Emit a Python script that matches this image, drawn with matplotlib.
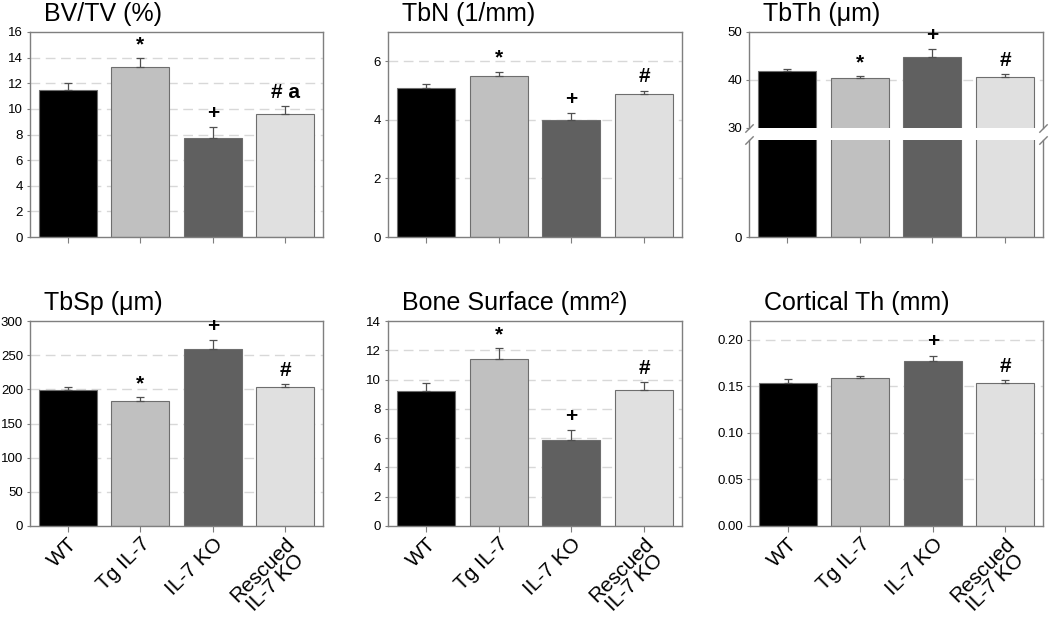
import numpy as np
import matplotlib
matplotlib.use("Agg")
import matplotlib.pyplot as plt

plt.rcParams['font.family'] = ['Liberation Sans', 'DejaVu Sans']

groups = ["WT", "Tg IL-7", "IL-7 KO", "Rescued\nIL-7 KO"]
bar_colors = ["#000000", "#c0c0c0", "#606060", "#e0e0e0"]

# means and upper error (SEM)
bvtv_mean = [11.5, 13.3, 7.7, 9.6]
bvtv_err = [0.55, 0.65, 0.85, 0.6]
bvtv_marks = ["", "*", "+", "# a"]

tbn_mean = [5.1, 5.5, 4.0, 4.9]
tbn_err = [0.12, 0.14, 0.23, 0.1]
tbn_marks = ["", "*", "+", "#"]

tbth_mean = [41.8, 40.35, 44.8, 40.55]
tbth_err = [0.5, 0.45, 1.6, 0.75]
tbth_marks = ["", "*", "+", "#"]

tbsp_mean = [198.7, 183.1, 258.6, 203.6]
tbsp_err = [5.0, 5.0, 14.0, 4.5]
tbsp_marks = ["", "*", "+", "#"]

bs_mean = [9.2, 11.42, 5.89, 9.29]
bs_err = [0.55, 0.73, 0.66, 0.55]
bs_marks = ["", "*", "+", "#"]

ct_mean = [0.1538, 0.1589, 0.1771, 0.1538]
ct_err = [0.0042, 0.0017, 0.0057, 0.0025]
ct_marks = ["", "", "+", "#"]

W, H = 1050, 619
spine_col = "#7f7f7f"
grid_col = "#d8d8d8"


def px_axes(fig, x0, y0, x1, y1):
    # pixel box (top-left origin) -> figure axes
    return fig.add_axes([x0 / W, 1 - y1 / H, (x1 - x0) / W, (y1 - y0) / H])


def style(ax, yticks, ylim, tick_labels=None):
    ax.set_xlim(-0.52, 3.52)
    ax.set_ylim(*ylim)
    ax.set_yticks(yticks)
    if tick_labels is not None:
        ax.set_yticklabels(tick_labels)
    for s in ax.spines.values():
        s.set_color(spine_col)
        s.set_linewidth(1.0)
    ax.tick_params(axis='y', length=2, width=0.8, color=spine_col, labelsize=9.5, pad=3)
    ax.tick_params(axis='x', length=4, width=0.8, color=spine_col, labelsize=15, pad=2)
    ax.set_xticks(range(len(groups)))
    for t in yticks:
        if ylim[0] < t < ylim[1]:
            ax.axhline(t, color=grid_col, lw=1.0, dashes=(7, 4), zorder=0)


def bars(ax, mean, err, marks=None):
    x = np.arange(len(mean))
    ax.bar(x, mean, width=0.8, color=bar_colors, edgecolor="#6e6e6e", linewidth=0.8, zorder=2)
    ax.errorbar(x, mean, yerr=[np.zeros(len(err)), err], fmt='none', ecolor="#505050",
                elinewidth=0.9, capsize=3, capthick=0.9, zorder=3)
    if marks:
        for xi, m, e, mk in zip(x, mean, err, marks):
            if mk:
                ax.annotate(mk, xy=(xi, m + e), xytext=(0, 3), textcoords='offset points',
                            ha='center', va='bottom', fontsize=15, fontweight='bold')


def title(ax, text):
    ax.annotate(text, xy=(0, 1), xycoords='axes fraction', xytext=(14, 11),
                textcoords='offset pixels', ha='left', va='baseline', fontsize=18)


def xlabels(ax, show):
    if show:
        ax.set_xticklabels(groups, rotation=45, ha='right', rotation_mode='anchor',
                           multialignment='center', linespacing=0.95)
    else:
        ax.set_xticklabels([])


fig = plt.figure(figsize=(W / 100, H / 100), dpi=100)

# BV/TV
ax = px_axes(fig, 30, 32, 323, 237)
style(ax, np.arange(0, 17, 2), (0, 16))
bars(ax, bvtv_mean, bvtv_err, bvtv_marks)
title(ax, "BV/TV (%)")
xlabels(ax, False)

# TbN
ax = px_axes(fig, 388, 32, 682, 237)
style(ax, [0, 2, 4, 6], (0, 7))
bars(ax, tbn_mean, tbn_err, tbn_marks)
title(ax, "TbN (1/mm)")
xlabels(ax, False)

# TbTh, broken axis
ax_top = px_axes(fig, 749, 32, 1043, 128)
ax_bot = px_axes(fig, 749, 140, 1043, 237)
style(ax_top, [30, 40, 50], (30, 50))
style(ax_bot, [0], (0, 30))
bars(ax_top, tbth_mean, tbth_err, tbth_marks)
bars(ax_bot, tbth_mean, [0, 0, 0, 0])
ax_top.spines['bottom'].set_visible(False)
ax_bot.spines['top'].set_visible(False)
ax_top.tick_params(axis='x', length=0)
xlabels(ax_top, False)
xlabels(ax_bot, False)
title(ax_top, "TbTh (μm)")
kw = dict(marker=[(-1, -1), (1, 1)], markersize=6, linestyle='none', color=spine_col,
          mec=spine_col, mew=1, clip_on=False)
ax_top.plot([0, 1], [0, 0], transform=ax_top.transAxes, **kw)
ax_bot.plot([0, 1], [1, 1], transform=ax_bot.transAxes, **kw)

# TbSp
ax = px_axes(fig, 30, 321, 323, 526)
style(ax, np.arange(0, 301, 50), (0, 300))
bars(ax, tbsp_mean, tbsp_err, tbsp_marks)
title(ax, "TbSp (μm)")
xlabels(ax, True)

# Bone surface
ax = px_axes(fig, 388, 321, 682, 526)
style(ax, np.arange(0, 15, 2), (0, 14))
bars(ax, bs_mean, bs_err, bs_marks)
title(ax, "Bone Surface (mm²)")
xlabels(ax, True)

# Cortical thickness
ax = px_axes(fig, 750, 321, 1043, 526)
ct_ticks = [0.0, 0.05, 0.10, 0.15, 0.20]
style(ax, ct_ticks, (0, 0.22), ["%.2f" % t for t in ct_ticks])
bars(ax, ct_mean, ct_err, ct_marks)
title(ax, "Cortical Th (mm)")
xlabels(ax, True)

fig.savefig("out.png", dpi=100)
